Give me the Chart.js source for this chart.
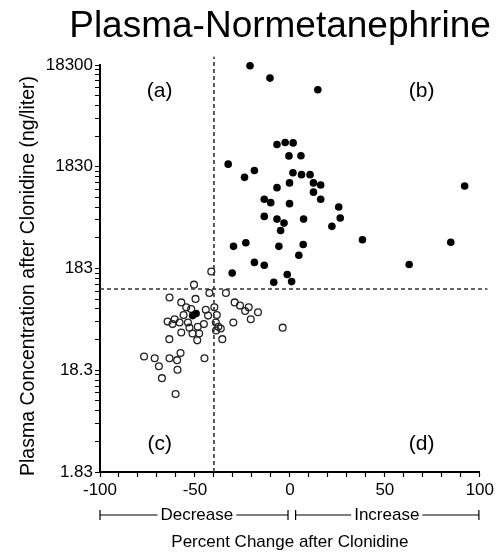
<!DOCTYPE html>
<html>
<head>
<meta charset="utf-8">
<script src="https://cdn.jsdelivr.net/npm/chart.js@4/dist/chart.umd.min.js"></script>
<style>
  body { margin: 0; background: #fff; }
  #wrap { width: 497px; height: 553px; }
</style>
</head>
<body>
<div id="wrap"><canvas id="normChart"></canvas></div>
<script>
// filled dots (quadrants a/b)
var filledX = [-21, -10.5, 14.7, -6.8, -2.5, 1.7, -0.5, 5.8, -32.5, -18.7, -23.9, 1.6, 6.1, 10.6, 12.4, 16.2, -0.2, -6.8, 12.4, 16.2, -13.5, -10.1, -0.2, 25.7, -13.5, -6.8, -3.1, 7.2, -4.9, 26.5, 22.1, -29.7, -23.2, -5.8, 7.0, 4.7, -18.7, -13.5, -30.4, -1.4, -8.5, 0.9, 92.0, 38.2, 84.7, 62.8, -51.2, -49.4];
var filledY = [18000, 13600, 10450, 3030, 3170, 3140, 2340, 2350, 1940, 1680, 1440, 1600, 1530, 1530, 1270, 1210, 1270, 1140, 1030, 876, 876, 812, 794, 736, 595, 560, 511, 560, 433, 573, 475, 302, 328, 302, 315, 247, 210, 197, 165, 160, 134, 136, 1184, 351, 332, 200, 63, 66];

// open circles (quadrant c)
var openX = [-41.4, -50.5, -42.4, -33.7, -63.4, -49.7, -57.2, -29.1, -26.3, -23.6, -21.7, -16.8, -20.6, -29.8, -3.8, -54.6, -52.0, -44.3, -39.8, -56.0, -43.1, -38.5, -64.4, -60.7, -58.1, -61.8, -53.7, -45.3, -39.0, -52.9, -48.5, -37.7, -57.2, -51.3, -47.8, -38.9, -36.4, -48.8, -63.5, -35.6, -76.8, -71.2, -63.4, -59.4, -57.6, -45.0, -69.0, -59.2, -67.4, -60.2];
var openY = [171, 127, 105, 105, 95, 92, 85, 85, 79, 70, 76, 68, 58, 54, 48, 76, 73, 72, 76, 64, 63, 64, 55, 58, 54, 52, 54, 52, 54, 48, 49, 49, 43, 42, 42, 45, 47, 36, 37, 37, 25, 24, 24, 23, 27, 24, 20, 18.5, 15.3, 10.7];

// cut-off lines
var cutX = -40;
var cutY = 115;

// axes
var xMin = -100, xMax = 100;
var xTickLabels = [-100, -50, 0, 50, 100];
var yMajorTicks = [1.83, 18.3, 183, 1830, 18300];
var yTickLabels = ["1.83", "18.3", "183", "1830", "18300"];
var yMinorSteps = [2, 3, 4, 5, 6, 7, 8, 9];

function toPoints(xs, ys) {
  return xs.map(function(x, i) { return { x: x, y: ys[i] }; });
}

var FONT = "'Liberation Sans', Arial, sans-serif";

// extra text: title, y title, quadrant labels, decrease/increase bracket
var extraText = {
  id: "extraText",
  afterDraw: function(chart) {
    var ctx = chart.ctx;
    var xs = chart.scales.x, ys = chart.scales.y;
    ctx.save();
    ctx.fillStyle = "#000";
    ctx.strokeStyle = "#000";

    ctx.font = "37px " + FONT;
    ctx.textAlign = "center";
    ctx.textBaseline = "alphabetic";
    ctx.fillText("Plasma-Normetanephrine", 280, 37);

    // y axis title
    ctx.save();
    ctx.translate(34, 276);
    ctx.rotate(-Math.PI / 2);
    ctx.font = "19.5px " + FONT;
    ctx.fillText("Plasma Concentration after Clonidine (ng/liter)", 0, 0);
    ctx.restore();

    // quadrant labels
    ctx.font = "21px " + FONT;
    ctx.textBaseline = "middle";
    ctx.fillText("(a)", xs.getPixelForValue(-68.6), ys.getPixelForValue(10100));
    ctx.fillText("(b)", xs.getPixelForValue(69.4), ys.getPixelForValue(10100));
    ctx.fillText("(c)", xs.getPixelForValue(-68.6), ys.getPixelForValue(3.45));
    ctx.fillText("(d)", xs.getPixelForValue(69.4), ys.getPixelForValue(3.45));

    // bracket row
    var by = 515;
    ctx.font = "17px " + FONT;
    ctx.lineWidth = 1.2;
    function bracket(a, b, label, mid) {
      var pa = xs.getPixelForValue(a), pb = xs.getPixelForValue(b), pm = xs.getPixelForValue(mid);
      var w = ctx.measureText(label).width / 2 + 3;
      ctx.beginPath();
      ctx.moveTo(pa, by); ctx.lineTo(pm - w, by);
      ctx.moveTo(pm + w, by); ctx.lineTo(pb, by);
      ctx.moveTo(pa, by - 5); ctx.lineTo(pa, by + 5);
      ctx.moveTo(pb, by - 5); ctx.lineTo(pb, by + 5);
      ctx.stroke();
      ctx.fillText(label, pm, by);
    }
    bracket(-100, -1, "Decrease", -49);
    bracket(3, 99.5, "Increase", 51);

    ctx.font = "17px " + FONT;
    ctx.fillText("Percent Change after Clonidine", xs.getPixelForValue(0), 542);
    ctx.restore();
  }
};

var chartCanvas = document.getElementById("normChart").getContext("2d");

var normChart = new Chart(chartCanvas, {
  type: "scatter",
  data: {
    datasets: [
      {
        label: "cutX",
        data: [{ x: cutX, y: 1.83 }, { x: cutX, y: 22000 }],
        showLine: true,
        borderColor: "#333",
        borderWidth: 1.6,
        borderDash: [4, 3],
        pointRadius: 0,
        clip: false
      },
      {
        label: "cutY",
        data: [{ x: xMin, y: cutY }, { x: 104, y: cutY }],
        showLine: true,
        borderColor: "#333",
        borderWidth: 1.6,
        borderDash: [4, 3],
        pointRadius: 0,
        clip: false
      },
      {
        label: "filled",
        data: toPoints(filledX, filledY),
        backgroundColor: "#000",
        borderColor: "#000",
        pointRadius: 3.8,
        borderWidth: 0,
        clip: false
      },
      {
        label: "open",
        data: toPoints(openX, openY),
        backgroundColor: "rgba(255,255,255,0)",
        borderColor: "#222",
        pointRadius: 3.4,
        borderWidth: 1.3,
        clip: false
      }
    ]
  },
  options: {
    responsive: true,
    maintainAspectRatio: false,
    animation: false,
    layout: { padding: { top: 65, right: 15, left: 0, bottom: 0 } },
    plugins: {
      legend: { display: false },
      tooltip: { enabled: false },
      title: { display: false }
    },
    scales: {
      x: {
        type: "linear",
        min: xMin,
        max: xMax,
        afterFit: function(scale) { scale.height = 81; },
        afterBuildTicks: function(scale) {
          var t = [];
          for (var v = xMin; v <= xMax; v += 10) t.push({ value: v });
          scale.ticks = t;
        },
        ticks: {
          autoSkip: false,
          maxRotation: 0,
          color: "#000",
          padding: 3,
          font: { family: FONT, size: 17 },
          callback: function(value) {
            return xTickLabels.indexOf(value) >= 0 ? String(value) : "";
          }
        },
        grid: {
          drawOnChartArea: false,
          drawTicks: true,
          tickLength: 5,
          color: "#000",
          tickWidth: 1.2
        },
        border: { display: true, color: "#000", width: 2 }
      },
      y: {
        type: "logarithmic",
        min: 1.83,
        max: 18300,
        afterFit: function(scale) { scale.width = 100; },
        afterBuildTicks: function(scale) {
          var t = [];
          yMajorTicks.forEach(function(m, i) {
            t.push({ value: m, major: true });
            if (i < yMajorTicks.length - 1) {
              yMinorSteps.forEach(function(k) { t.push({ value: m * k }); });
            }
          });
          scale.ticks = t;
        },
        ticks: {
          autoSkip: false,
          color: "#000",
          padding: 2,
          font: { family: FONT, size: 17 },
          callback: function(value, index, ticks) {
            var i = yMajorTicks.indexOf(ticks[index].value);
            return i >= 0 ? yTickLabels[i] : "";
          }
        },
        grid: {
          drawOnChartArea: false,
          drawTicks: true,
          tickLength: 5,
          color: "#000",
          tickWidth: 1
        },
        border: { display: true, color: "#000", width: 2 }
      }
    }
  },
  plugins: [extraText]
});
</script>
</body>
</html>
